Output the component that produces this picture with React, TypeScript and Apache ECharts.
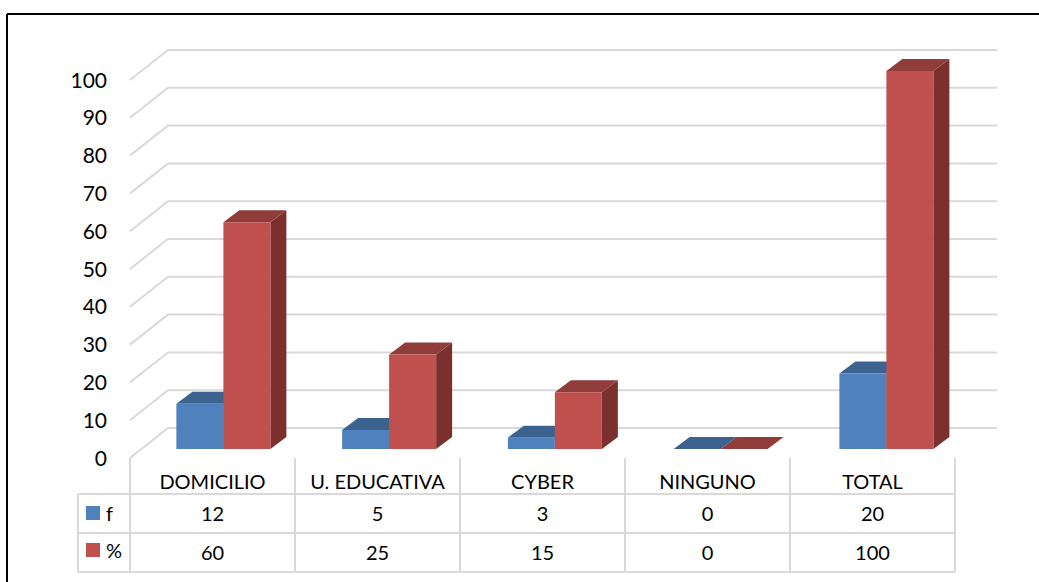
import React, { useEffect, useRef } from "react";
import * as echarts from "echarts";

const categories = ["DOMICILIO", "U. EDUCATIVA", "CYBER", "NINGUNO", "TOTAL"];
const fValues = [12, 5, 3, 0, 20];
const pctValues = [60, 25, 15, 0, 100];
const ticks = [0, 10, 20, 30, 40, 50, 60, 70, 80, 90, 100];

const FONT = "Lato";
const GRID = "#d9d9d9";
const DX = 16;
const DY = 12;
const BAR_W = 47;
const CENTER_SHIFT = 12;
const SPREAD = 0.75;

function bar3d(front: string, top: string, side: string, place: number) {
  return (_p: any, api: any) => {
    const i = api.value(0);
    const v = api.value(1);
    const [cx, y] = api.coord([i, v]);
    const [, y0] = api.coord([i, 0]);
    const x0 = cx + CENTER_SHIFT + (i - 1.5) * SPREAD + place * BAR_W;
    const x1 = x0 + BAR_W;
    const children: any[] = [
      { type: "polygon", shape: { points: [[x1, y], [x1 + DX, y - DY], [x1 + DX, y0 - DY], [x1, y0]] }, style: { fill: side } },
      { type: "polygon", shape: { points: [[x0, y], [x1, y], [x1 + DX, y - DY], [x0 + DX, y - DY]] }, style: { fill: top } },
    ];
    if (v > 0) {
      children.push({ type: "rect", shape: { x: x0, y, width: BAR_W, height: y0 - y }, style: { fill: front } });
    }
    return { type: "group", children };
  };
}

function line(x1: number, y1: number, x2: number, y2: number) {
  return { type: "line", shape: { x1, y1, x2, y2 }, style: { stroke: GRID, lineWidth: 2, fill: "none" } };
}

const renderWall = (p: any, api: any) => {
  const v = api.value(1);
  const [, y] = api.coord([0, v]);
  const left = p.coordSys.x;
  const right = left + p.coordSys.width;
  return {
    type: "polyline",
    shape: { points: [[left, y + 9], [left + 38, y - 21], [right + 42, y - 21]] },
    style: { stroke: GRID, lineWidth: 2, fill: "none" },
  };
};

const renderTable = (p: any, api: any) => {
  const i = api.value(0);
  const [cx] = api.coord([i, 0]);
  const [, y0] = api.coord([i, 0]);
  const half = p.coordSys.width / categories.length / 2;
  const textStyle = (text: any, y: number) => ({
    type: "text",
    style: { text: String(text), x: cx, y, fill: "#000", font: `20px ${FONT}`, align: "center", verticalAlign: "middle" },
  });
  const children: any[] = [
    line(cx + half, y0 + 9, cx + half, y0 + 123),
    textStyle(fValues[i], y0 + 64),
    textStyle(pctValues[i], y0 + 103),
  ];
  if (i === 0) {
    const l = cx - half;
    const r = l + p.coordSys.width;
    children.push(
      line(l, y0 + 9, l, y0 + 123),
      line(l - 52, y0 + 45, l - 52, y0 + 123),
      line(l - 52, y0 + 45, r, y0 + 45),
      line(l - 52, y0 + 84, r, y0 + 84),
      line(l - 52, y0 + 123, r, y0 + 123)
    );
  }
  return { type: "group", children };
};

export default function App() {
  const ref = useRef<HTMLDivElement>(null);
  useEffect(() => {
    const chart = echarts.init(ref.current!, undefined, { renderer: "svg" });
    chart.setOption({
      animation: false,
      backgroundColor: "#fff",
      grid: [
        { left: 130, top: 71, width: 825, height: 378 },
        { left: 130, top: 79, width: 825, height: 378 },
      ],
      legend: {
        orient: "vertical",
        left: 81,
        top: 498,
        itemWidth: 14,
        itemHeight: 14,
        itemGap: 17,
        icon: "rect",
        data: ["f", "%"],
        textStyle: { fontFamily: FONT, fontSize: 20, color: "#000", padding: [0, 0, 10, 1] },
      },
      xAxis: [
        {
          type: "category",
          data: categories,
          axisLine: { show: false },
          axisTick: { show: false },
          splitLine: { show: false },
          axisLabel: { fontFamily: FONT, fontSize: 20, color: "#000", margin: 22, interval: 0 },
        },
        { type: "category", gridIndex: 1, data: categories, show: false },
      ],
      yAxis: [
        {
          type: "value",
          min: 0,
          max: 100,
          interval: 10,
          show: false,
          splitLine: { show: false },
        },
        {
          type: "value",
          gridIndex: 1,
          min: 0,
          max: 100,
          interval: 10,
          axisLine: { show: false },
          axisTick: { show: false },
          splitLine: { show: false },
          axisLabel: { fontFamily: FONT, fontSize: 21, color: "#000", margin: 23 },
        },
      ],
      graphic: [
        { type: "line", shape: { x1: 7, y1: 14, x2: 1039, y2: 14 }, style: { stroke: "#000", lineWidth: 2 } },
        { type: "line", shape: { x1: 7, y1: 14, x2: 7, y2: 582 }, style: { stroke: "#000", lineWidth: 2 } },
      ],
      series: [
        { type: "custom", name: "wall", silent: true, z: 1, renderItem: renderWall, data: ticks.map((t) => [0, t]), encode: { x: 0, y: 1 } },
        { type: "custom", name: "table", silent: true, z: 1, renderItem: renderTable, data: categories.map((_, i) => [i, 0]), encode: { x: 0, y: 1 } },
        {
          type: "custom", name: "f", z: 2, itemStyle: { color: "#4f81bd" },
          renderItem: bar3d("#4f81bd", "#3c638f", "#34567c", -1),
          data: fValues.map((v, i) => [i, v]), encode: { x: 0, y: 1 },
        },
        {
          type: "custom", name: "%", z: 3, itemStyle: { color: "#c0504d" },
          renderItem: bar3d("#c0504d", "#8f3c3a", "#7c302e", 0),
          data: pctValues.map((v, i) => [i, v]), encode: { x: 0, y: 1 },
        },
      ],
    });
    return () => chart.dispose();
  }, []);
  return <div ref={ref} style={{ position: "absolute", left: 0, top: 0, width: 1039, height: 582 }} />;
}
